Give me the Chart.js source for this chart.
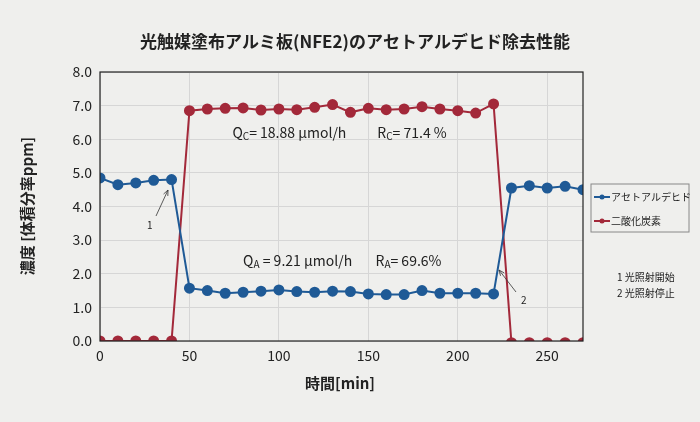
<!DOCTYPE html>
<html><head><meta charset="utf-8">
<script src="https://cdn.jsdelivr.net/npm/chart.js@4"></script>
<style>html,body{margin:0;background:#efefed}</style>
</head><body>
<canvas id="c" width="700" height="422"></canvas>
<script>
// ── DATA ──
const TIMES = [0,10,20,30,40,50,60,70,80,90,100,110,120,130,140,150,160,170,180,190,200,210,220,230,240,250,260,270];
const ACETALDEHYDE = [4.85,4.65,4.7,4.78,4.8,1.57,1.5,1.42,1.45,1.48,1.52,1.47,1.45,1.48,1.47,1.4,1.38,1.38,1.5,1.42,1.42,1.42,1.4,4.55,4.62,4.55,4.6,4.5];
const CO2 = [0,0,0,0,0,6.85,6.9,6.92,6.93,6.87,6.9,6.88,6.95,7.03,6.8,6.92,6.88,6.9,6.97,6.9,6.85,6.78,7.05,-0.05,-0.05,-0.05,-0.05,-0.05];
const X_TICKS = [0,50,100,150,200,250];
const SERIES = [
  { label: 'アセトアルデヒド', data: ACETALDEHYDE, color: '#1f5a96' },
  { label: '二酸化炭素',       data: CO2,          color: '#a3293a' },
];
const FONT = '"Noto Sans CJK JP", "Noto Sans", sans-serif';

function subText(ctx, x, y, parts) {
  parts.forEach(([t, sub]) => {
    ctx.font = (sub ? '10px ' : '14px ') + FONT;
    ctx.fillText(t, x, sub ? y + 4 : y);
    x += ctx.measureText(t).width;
  });
}
function arrow(ctx, x1, y1, x2, y2) {
  ctx.beginPath(); ctx.moveTo(x1, y1); ctx.lineTo(x2, y2); ctx.stroke();
  const a = Math.atan2(y2 - y1, x2 - x1);
  ctx.beginPath();
  ctx.moveTo(x2, y2);
  ctx.lineTo(x2 - 6 * Math.cos(a - 0.4), y2 - 6 * Math.sin(a - 0.4));
  ctx.moveTo(x2, y2);
  ctx.lineTo(x2 - 6 * Math.cos(a + 0.4), y2 - 6 * Math.sin(a + 0.4));
  ctx.stroke();
}

const decor = {
  id: 'decor',
  beforeDraw(chart) {
    const ctx = chart.ctx;
    ctx.save(); ctx.fillStyle = '#efefed'; ctx.fillRect(0, 0, chart.width, chart.height); ctx.restore();
  },
  afterDraw(chart) {
    const ctx = chart.ctx, x = chart.scales.x, y = chart.scales.y, a = chart.chartArea;
    ctx.save();
    ctx.strokeStyle = '#222'; ctx.lineWidth = 1.2;
    ctx.strokeRect(a.left, a.top, a.right - a.left, a.bottom - a.top);
    ctx.fillStyle = '#222'; ctx.textBaseline = 'middle'; ctx.textAlign = 'center';
    ctx.font = 'bold 17px ' + FONT;
    ctx.fillText('光触媒塗布アルミ板(NFE2)のアセトアルデヒド除去性能', 355, 42);
    ctx.font = 'bold 15px ' + FONT;
    ctx.fillText('時間[min]', 340, 383);
    ctx.save();
    ctx.translate(27, 206); ctx.rotate(-Math.PI / 2);
    ctx.fillText('濃度 [体積分率ppm]', 0, 0);
    ctx.restore();
    ctx.textAlign = 'left';
    subText(ctx, x.getPixelForValue(74), y.getPixelForValue(6.2), [['Q',0],['C',1],['= 18.88 μmol/h',0]]);
    subText(ctx, x.getPixelForValue(155), y.getPixelForValue(6.2), [['R',0],['C',1],['= 71.4 %',0]]);
    subText(ctx, x.getPixelForValue(80), y.getPixelForValue(2.4), [['Q',0],['A',1],[' = 9.21 μmol/h',0]]);
    subText(ctx, x.getPixelForValue(154), y.getPixelForValue(2.4), [['R',0],['A',1],['= 69.6%',0]]);
    ctx.lineWidth = 0.8; ctx.strokeStyle = '#333';
    arrow(ctx, 156, 216, 168, 190);
    arrow(ctx, 516, 292, 499, 270);
    ctx.font = '10px ' + FONT;
    ctx.fillText('1', 147, 225); ctx.fillText('2', 521, 300);
    // legend
    ctx.strokeStyle = '#888'; ctx.lineWidth = 1;
    ctx.strokeRect(591, 184, 98, 48);
    ctx.font = '10px ' + FONT;
    SERIES.forEach((s, i) => {
      const ly = 197 + i * 24;
      ctx.strokeStyle = s.color; ctx.lineWidth = 2;
      ctx.beginPath(); ctx.moveTo(594, ly); ctx.lineTo(610, ly); ctx.stroke();
      ctx.fillStyle = s.color; ctx.beginPath(); ctx.arc(602, ly, 2.5, 0, 7); ctx.fill();
      ctx.fillStyle = '#222'; ctx.fillText(s.label, 611, ly);
    });
    ctx.fillText('1 光照射開始', 617, 277);
    ctx.fillText('2 光照射停止', 617, 293);
    ctx.restore();
  }
};

new Chart(document.getElementById('c'), {
  type: 'line',
  data: {
    datasets: SERIES.map(s => ({
      label: s.label,
      data: TIMES.map((t, i) => ({ x: t, y: s.data[i] })),
      borderColor: s.color, backgroundColor: s.color,
      borderWidth: 2, pointRadius: 4.5, pointHoverRadius: 4.5, tension: 0,
    })),
  },
  options: {
    responsive: false, animation: false,
    layout: { padding: { top: 72, right: 117, left: 0, bottom: 0 } },
    plugins: { legend: { display: false }, tooltip: { enabled: false } },
    scales: {
      x: {
        type: 'linear', min: 0, max: 270,
        afterBuildTicks: s => { s.ticks = X_TICKS.map(v => ({ value: v })); },
        ticks: { color: '#222', font: { family: FONT, size: 14 }, padding: 6 },
        grid: { color: '#d6d6d6', drawTicks: false },
        border: { display: false },
        afterFit: s => { s.height = 81; },
      },
      y: {
        min: 0, max: 8,
        ticks: { stepSize: 1, color: '#222', font: { family: FONT, size: 14 }, padding: 8, callback: v => v.toFixed(1) },
        grid: { color: '#d6d6d6', drawTicks: false },
        border: { display: false },
        afterFit: s => { s.width = 100; },
      },
    },
  },
  plugins: [decor],
});
</script>
</body></html>
